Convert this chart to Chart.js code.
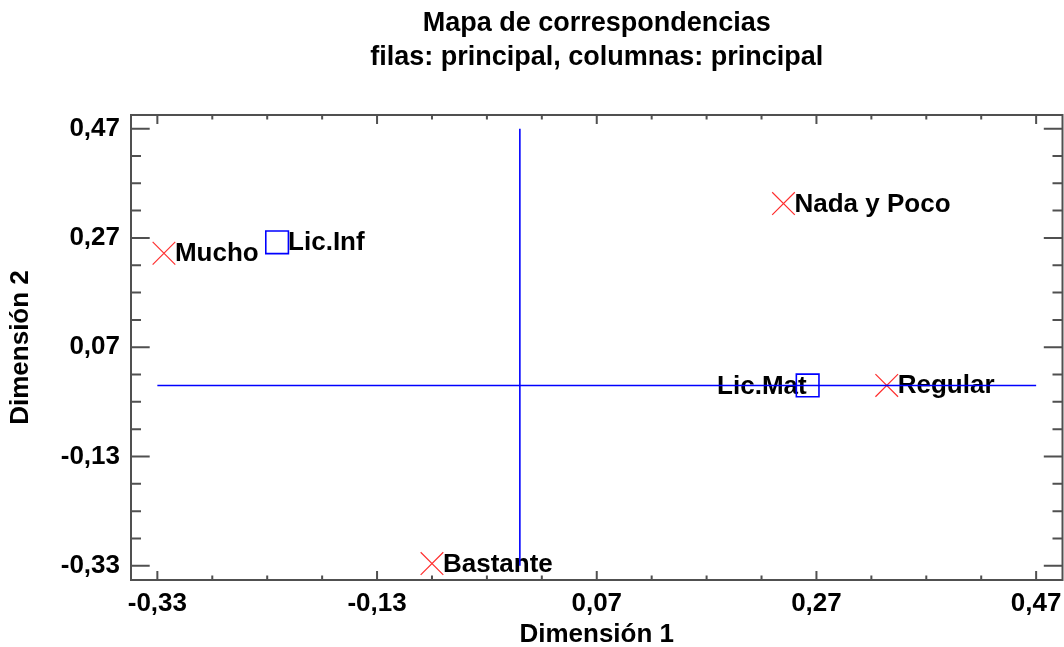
<!DOCTYPE html>
<html>
<head>
  <meta charset="UTF-8" />
  <title>Mapa de correspondencias</title>
  <script src="https://cdn.jsdelivr.net/npm/chart.js"></script>
  <style>
    body {
      margin: 0;
      background-color: white;
    }
    canvas {
      display: block;
    }
  </style>
</head>
<body>
  <canvas id="chart" width="1064" height="647"></canvas>

  <script>
    // filas (categorías de respuesta)
    const rowLabels = ['Mucho', 'Bastante', 'Regular', 'Nada y Poco'];
    const rowDim1 = [-0.324, -0.080, 0.334, 0.240];
    const rowDim2 = [0.242, -0.326, 0.0, 0.333];

    // columnas (licenciaturas)
    const colLabels = ['Lic.Inf', 'Lic.Mat'];
    const colDim1 = [-0.221, 0.262];
    const colDim2 = [0.262, 0.0];

    // marcas con etiqueta en los dos ejes
    const majorTicks = [-0.33, -0.13, 0.07, 0.27, 0.47];

    const fontFamily = "'Liberation Sans', Arial, sans-serif";
    const fmt = v => v.toFixed(2).replace('.', ',');

    // etiquetas de los puntos
    const pointLabels = {
      id: 'pointLabels',
      beforeDatasetsDraw(chart) {
        const ctx = chart.ctx;
        ctx.save();
        ctx.font = 'bold 26px ' + fontFamily;
        ctx.fillStyle = '#000';
        ctx.textBaseline = 'alphabetic';
        [[2, rowLabels], [3, colLabels]].forEach(([dsIndex, names]) => {
          chart.getDatasetMeta(dsIndex).data.forEach((pt, i) => {
            const name = names[i];
            if (name === 'Lic.Mat') {
              ctx.textAlign = 'right';
              ctx.fillText(name, pt.x - 1, pt.y + 9);
            } else {
              ctx.textAlign = 'left';
              ctx.fillText(name, pt.x + 11, pt.y + 8);
            }
          });
        });
        ctx.restore();
      }
    };

    // marco y marcas hacia dentro
    const frameTicks = {
      id: 'frameTicks',
      afterDatasetsDraw(chart) {
        const { ctx, chartArea: a, scales: { x, y } } = chart;
        ctx.save();
        ctx.strokeStyle = '#505050';
        ctx.lineWidth = 2;
        ctx.strokeRect(a.left, a.top, a.right - a.left, a.bottom - a.top);
        ctx.beginPath();
        for (let i = 0; i <= 16; i++) {
          const v = majorTicks[0] + i * 0.05;
          const major = i % 4 === 0;
          const px = x.getPixelForValue(v);
          const lenV = major ? 9 : 4.5;
          ctx.moveTo(px, a.bottom); ctx.lineTo(px, a.bottom - lenV);
          ctx.moveTo(px, a.top); ctx.lineTo(px, a.top + lenV);
          const py = y.getPixelForValue(v);
          const lenH = major ? 18.7 : 10;
          ctx.moveTo(a.left, py); ctx.lineTo(a.left + lenH, py);
          ctx.moveTo(a.right, py); ctx.lineTo(a.right - lenH, py);
        }
        ctx.stroke();
        ctx.restore();
      }
    };

    const lo = majorTicks[0];
    const hi = majorTicks[majorTicks.length - 1];

    const ctx = document.getElementById('chart').getContext('2d');
    new Chart(ctx, {
      type: 'scatter',
      data: {
        datasets: [
          {
            // eje horizontal
            type: 'line',
            data: [{ x: lo, y: 0 }, { x: hi, y: 0 }],
            borderColor: '#0000ff',
            borderWidth: 1.6,
            pointRadius: 0,
            fill: false
          },
          {
            // eje vertical
            type: 'line',
            data: [{ x: 0, y: lo }, { x: 0, y: hi }],
            borderColor: '#0000ff',
            borderWidth: 1.6,
            pointRadius: 0,
            fill: false
          },
          {
            label: 'Filas',
            data: rowDim1.map((v, i) => ({ x: v, y: rowDim2[i] })),
            pointStyle: 'crossRot',
            pointRadius: 16,
            pointHoverRadius: 16,
            borderColor: '#ff3030',
            borderWidth: 1.2
          },
          {
            label: 'Columnas',
            data: colDim1.map((v, i) => ({ x: v, y: colDim2[i] })),
            pointStyle: 'rect',
            pointRadius: 16,
            pointHoverRadius: 16,
            borderColor: '#0000ff',
            backgroundColor: 'rgba(0,0,0,0)',
            borderWidth: 1.6
          }
        ]
      },
      options: {
        responsive: false,
        animation: false,
        layout: {
          autoPadding: false,
          padding: { left: 0, right: 1.5, top: 0, bottom: 0 }
        },
        scales: {
          x: {
            type: 'linear',
            min: -0.354,
            max: 0.494,
            afterBuildTicks: axis => { axis.ticks = majorTicks.map(v => ({ value: v })); },
            afterFit: scale => {
              scale.height = 67;
              scale.paddingLeft = 0;
              scale.paddingRight = 0;
            },
            grid: { display: false, drawTicks: false },
            border: { display: false },
            ticks: {
              padding: 8,
              color: '#000',
              font: { family: fontFamily, size: 26, weight: 'bold' },
              callback: v => fmt(v)
            },
            title: {
              display: true,
              text: 'Dimensión 1',
              color: '#000',
              font: { family: fontFamily, size: 26, weight: 'bold', lineHeight: 0.8 },
              padding: { top: 0, bottom: 1.6 }
            }
          },
          y: {
            type: 'linear',
            min: -0.356,
            max: 0.495,
            afterBuildTicks: axis => { axis.ticks = majorTicks.map(v => ({ value: v })); },
            afterFit: scale => {
              scale.width = 131;
              scale.paddingTop = 0;
              scale.paddingBottom = 0;
            },
            grid: { display: false, drawTicks: false },
            border: { display: false },
            ticks: {
              padding: 11,
              color: '#000',
              font: { family: fontFamily, size: 26, weight: 'bold' },
              callback: v => fmt(v)
            },
            title: {
              display: true,
              text: 'Dimensión 2',
              color: '#000',
              font: { family: fontFamily, size: 26, weight: 'bold' },
              padding: { top: 5.6, bottom: 0 }
            }
          }
        },
        plugins: {
          legend: { display: false },
          tooltip: { enabled: false },
          title: {
            display: true,
            fullSize: false,
            text: ['Mapa de correspondencias', 'filas: principal, columnas: principal'],
            color: '#000',
            font: { family: fontFamily, size: 27, weight: 'bold', lineHeight: 1.274 },
            padding: { top: 6.4, bottom: 39.8 }
          }
        }
      },
      plugins: [pointLabels, frameTicks]
    });
  </script>
</body>
</html>
